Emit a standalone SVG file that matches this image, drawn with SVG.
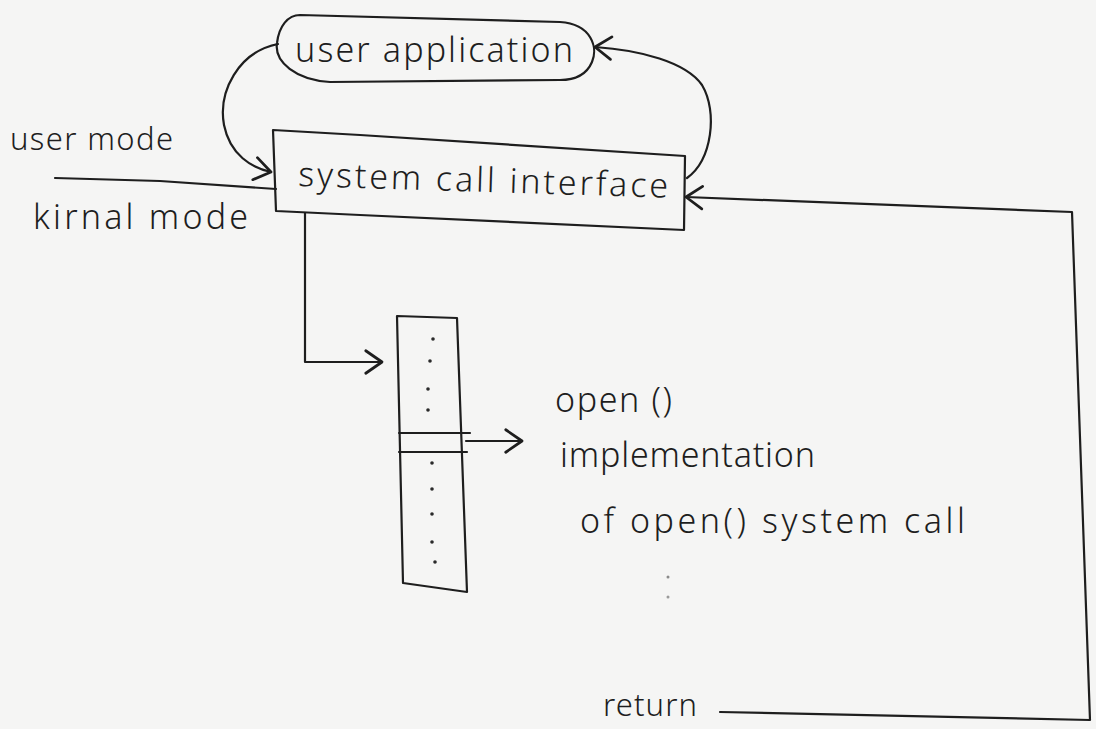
<svg xmlns="http://www.w3.org/2000/svg" width="1096" height="729" viewBox="0 0 1096 729">
  <style>
    .ink { fill: none; stroke: #1e1e1e; stroke-width: 2.2; stroke-linejoin: round; stroke-linecap: round; }
    .txt { font-family: "Noto Sans", "DejaVu Sans", sans-serif; font-size: 34px; font-weight: 300; fill: #1e1e1e; }
    .dot { fill: #2a2a2a; }
  </style>
  <defs>
    <marker id="arrow" markerUnits="userSpaceOnUse" markerWidth="30" markerHeight="30" refX="0" refY="0" viewBox="-16 -12 20 24" orient="auto">
      <path d="M -13,-9 L 0,0 L -13,9" fill="none" stroke="#1e1e1e" stroke-width="2.2" stroke-linecap="round" stroke-linejoin="round"/>
    </marker>
  </defs>
  <rect x="0" y="0" width="1096" height="729" fill="#f5f5f4"/>

  <g id="mode-divider">
    <path class="ink" d="M 55,178 L 160,181 L 276,189"/>
    <text class="txt" x="10" y="150" textLength="163" lengthAdjust="spacing" style="font-size:31px">user mode</text>
    <text class="txt" x="33" y="229" textLength="215" lengthAdjust="spacing">kirnal mode</text>
  </g>

  <g id="user-application">
    <path class="ink" d="M 300,15 L 560,22 C 592,24 598,48 592,62 C 586,76 574,80 560,80 L 330,82 C 296,80 274,62 277,43 C 279,26 288,15 300,15 Z"/>
    <text class="txt" x="295" y="62" textLength="278" lengthAdjust="spacing">user application</text>
  </g>

  <g id="system-call-interface">
    <path class="ink" d="M 273,130 L 360,135 L 685,156 L 684,230 L 360,215 L 276,211 Z"/>
    <text class="txt" x="298" y="186" textLength="370" lengthAdjust="spacing" transform="rotate(1.8 298 186)">system call interface</text>
  </g>

  <g id="system-call-table">
    <path class="ink" d="M 397,316 L 457,318 L 467,592 L 403,583 Z"/>
    <path class="ink" d="M 399,433 L 470,433"/>
    <path class="ink" d="M 399,452 L 467,452"/>
    <circle class="dot" cx="433" cy="339" r="1.8"/>
    <circle class="dot" cx="430" cy="361" r="1.8"/>
    <circle class="dot" cx="428" cy="389" r="1.8"/>
    <circle class="dot" cx="428" cy="410" r="1.8"/>
    <circle class="dot" cx="432" cy="463" r="1.8"/>
    <circle class="dot" cx="432" cy="489" r="1.8"/>
    <circle class="dot" cx="432" cy="514" r="1.8"/>
    <circle class="dot" cx="432" cy="542" r="1.8"/>
    <circle class="dot" cx="435" cy="562" r="1.8"/>
  </g>

  <g id="open-implementation">
    <text class="txt" x="555" y="412" textLength="117" lengthAdjust="spacing">open ()</text>
    <text class="txt" x="560" y="467" textLength="255" lengthAdjust="spacing">implementation</text>
    <text class="txt" x="580" y="533" textLength="385" lengthAdjust="spacing">of open() system call</text>
    <circle cx="668" cy="577" r="1.5" fill="#8a8a8a"/>
    <circle cx="668" cy="597" r="1.5" fill="#9a9a9a"/>
  </g>

  <g id="return-label">
    <text class="txt" x="603" y="716" textLength="94" lengthAdjust="spacing" style="font-size:31px">return</text>
  </g>

  <g id="connectors">
    <path class="ink" d="M 278,44 C 238,52 218,92 224,125 C 230,155 252,168 271,172" marker-end="url(#arrow)"/>
    <path class="ink" d="M 687,178 C 712,160 718,112 702,85 C 686,62 640,50 595,47" marker-end="url(#arrow)"/>
    <path class="ink" d="M 305,213 L 305,362 L 382,362" marker-end="url(#arrow)"/>
    <path class="ink" d="M 466,441 L 522,441" marker-end="url(#arrow)"/>
    <path class="ink" d="M 720,712 L 1090,720 L 1072,212 L 686,197" marker-end="url(#arrow)"/>
  </g>
</svg>
